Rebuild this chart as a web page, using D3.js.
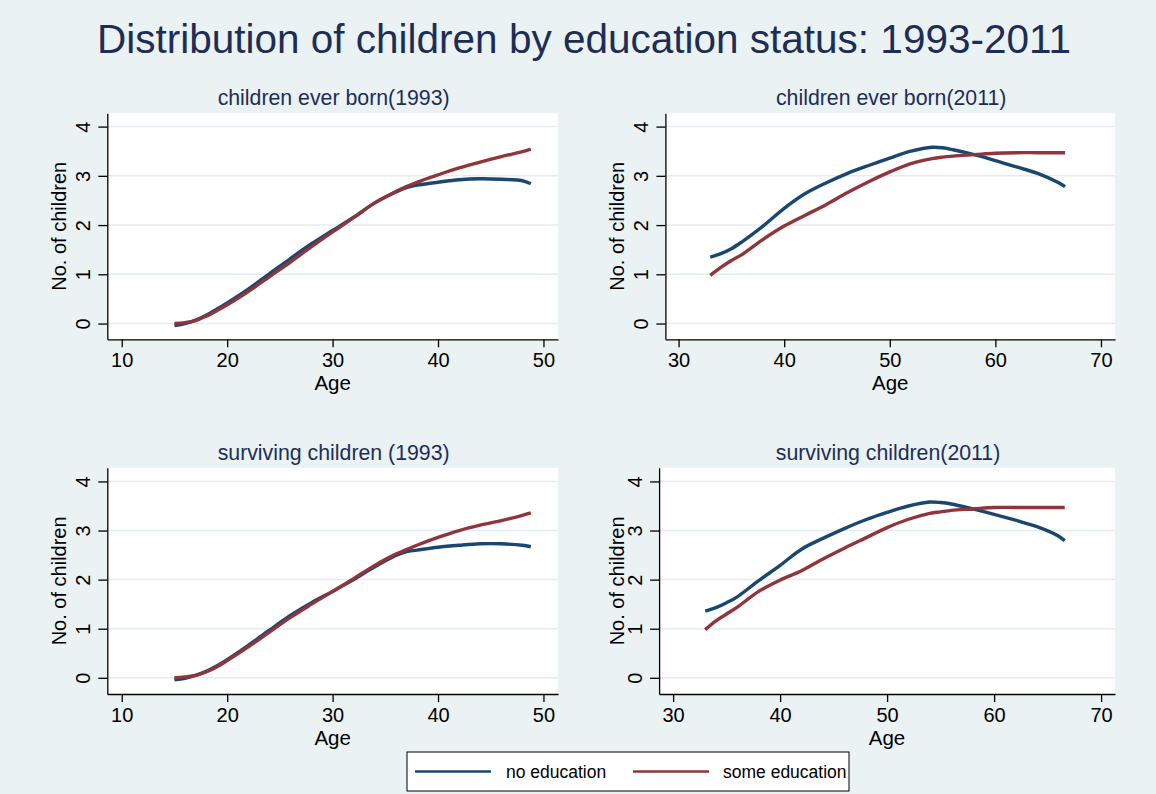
<!DOCTYPE html>
<html>
<head>
<meta charset="utf-8">
<script src="https://cdn.jsdelivr.net/npm/d3@7"></script>
<style>
  body { margin: 0; background: #eaf2f3; }
  svg { display: block; font-family: "Liberation Sans", Arial, sans-serif; }
</style>
</head>
<body>
<div id="chart"></div>
<script>
const ages1993 = [15, 16, 17, 18, 19, 20, 22, 24, 26, 28, 30, 32, 34, 36, 37, 38, 40, 42, 44, 46, 48, 48.8];
const ages2011 = [33, 34, 35, 36, 38, 40, 42, 44, 46, 48, 50, 52, 54, 55, 56, 58, 60, 62, 64, 66, 66.6];

// children ever born (1993)
const ceb1993NoEdu = [-0.04, 0.0, 0.07, 0.17, 0.29, 0.42, 0.7, 1.01, 1.32, 1.62, 1.89, 2.16, 2.45, 2.67, 2.76, 2.81, 2.87, 2.92, 2.94, 2.93, 2.9, 2.84];
const ceb1993SomeEdu = [0.0, 0.02, 0.06, 0.15, 0.26, 0.38, 0.65, 0.95, 1.25, 1.56, 1.86, 2.15, 2.45, 2.68, 2.78, 2.87, 3.02, 3.16, 3.28, 3.39, 3.49, 3.54];

// children ever born (2011)
const ceb2011NoEdu = [1.35, 1.42, 1.52, 1.66, 1.98, 2.34, 2.64, 2.86, 3.05, 3.21, 3.36, 3.5, 3.58, 3.57, 3.53, 3.43, 3.31, 3.18, 3.05, 2.86, 2.78];
const ceb2011SomeEdu = [0.98, 1.14, 1.28, 1.4, 1.71, 1.98, 2.2, 2.42, 2.66, 2.88, 3.08, 3.25, 3.35, 3.38, 3.4, 3.43, 3.46, 3.47, 3.47, 3.47, 3.47];

// surviving children (1993)
const surv1993NoEdu = [-0.04, -0.01, 0.05, 0.13, 0.24, 0.37, 0.66, 0.97, 1.27, 1.53, 1.76, 2.0, 2.26, 2.49, 2.57, 2.6, 2.66, 2.7, 2.73, 2.73, 2.7, 2.67];
const surv1993SomeEdu = [0.0, 0.02, 0.05, 0.12, 0.22, 0.35, 0.63, 0.93, 1.23, 1.5, 1.76, 2.02, 2.29, 2.52, 2.61, 2.7, 2.86, 3.0, 3.11, 3.2, 3.31, 3.36];

// surviving children (2011)
const surv2011NoEdu = [1.36, 1.43, 1.53, 1.65, 1.98, 2.29, 2.62, 2.84, 3.04, 3.22, 3.37, 3.5, 3.58, 3.57, 3.54, 3.44, 3.33, 3.21, 3.08, 2.89, 2.79];
const surv2011SomeEdu = [0.98, 1.16, 1.3, 1.44, 1.76, 1.99, 2.18, 2.42, 2.64, 2.85, 3.06, 3.23, 3.35, 3.38, 3.41, 3.44, 3.47, 3.47, 3.47, 3.47, 3.47];

const xTicks1993 = [10, 20, 30, 40, 50];
const xTicks2011 = [30, 40, 50, 60, 70];
const yTicks = [0, 1, 2, 3, 4];

const seriesNames = ["no education", "some education"];
const seriesColors = ["#1a476f", "#90353b"];

const W = 1156, H = 794;
const titleColor = "#1e2d55";

const svg = d3.select("#chart").append("svg")
  .attr("width", W)
  .attr("height", H);

svg.append("rect").attr("width", W).attr("height", H).attr("fill", "#eaf2f3");

// Main title
svg.append("text")
  .attr("x", 584)
  .attr("y", 53)
  .attr("text-anchor", "middle")
  .attr("font-size", 40.5)
  .attr("fill", titleColor)
  .text("Distribution of children by education status: 1993-2011");

// Function to draw one panel
function drawPanel(p) {
  const x = d3.scaleLinear().domain(p.xDomain).range([p.left, p.right]);
  const y = d3.scaleLinear().domain(p.yDomain).range([p.bottom, p.top]);
  const g = svg.append("g");

  g.append("rect")
    .attr("x", p.left).attr("y", p.top)
    .attr("width", p.right - p.left).attr("height", p.bottom - p.top)
    .attr("fill", "#ffffff");

  // gridlines
  g.selectAll(".grid")
    .data(yTicks)
    .enter().append("line")
    .attr("x1", p.left).attr("x2", p.right)
    .attr("y1", d => y(d)).attr("y2", d => y(d))
    .attr("stroke", "#e4ecef")
    .attr("stroke-width", 1.5);

  // axes
  const xAxis = g.append("g")
    .attr("transform", `translate(0,${p.bottom})`)
    .call(d3.axisBottom(x).tickValues(p.xTicks).tickFormat(d3.format("d"))
      .tickSize(8).tickPadding(6).tickSizeOuter(0));
  xAxis.select(".domain").attr("stroke", "#000").attr("stroke-width", 1.3);
  xAxis.selectAll(".tick line").attr("stroke", "#000").attr("stroke-width", 1.3);
  xAxis.selectAll(".tick text")
    .attr("font-size", 20)
    .attr("font-family", "Liberation Sans, Arial, sans-serif")
    .attr("fill", "#000");

  const yAxis = g.append("g")
    .attr("transform", `translate(${p.left},0)`)
    .call(d3.axisLeft(y).tickValues(yTicks).tickFormat(d3.format("d"))
      .tickSize(9).tickSizeOuter(0));
  yAxis.select(".domain").attr("stroke", "#000").attr("stroke-width", 1.3);
  yAxis.selectAll(".tick line").attr("stroke", "#000").attr("stroke-width", 1.3);
  yAxis.selectAll(".tick text")
    .attr("font-size", 20)
    .attr("font-family", "Liberation Sans, Arial, sans-serif")
    .attr("fill", "#000")
    .attr("text-anchor", "middle")
    .attr("x", 0).attr("dy", 0)
    .attr("transform", "translate(-17,0) rotate(-90)");

  // panel subtitle
  g.append("text")
    .attr("x", (p.left + p.right) / 2 + 1)
    .attr("y", p.top - 8)
    .attr("text-anchor", "middle")
    .attr("font-size", 21.3)
    .attr("fill", titleColor)
    .text(p.title);

  // axis titles
  g.append("text")
    .attr("x", (p.left + p.right) / 2)
    .attr("y", p.bottom + 51)
    .attr("text-anchor", "middle")
    .attr("font-size", 20.5)
    .attr("fill", "#000")
    .text("Age");

  g.append("text")
    .attr("transform", `translate(${p.left - p.yTitleGap},${(p.top + p.bottom) / 2}) rotate(-90)`)
    .attr("text-anchor", "middle")
    .attr("font-size", 20)
    .attr("fill", "#000")
    .text("No. of children");

  // curves
  const line = d3.line()
    .x(d => x(d[0]))
    .y(d => y(d[1]))
    .curve(d3.curveCatmullRom);

  p.series.forEach((vals, i) => {
    g.append("path")
      .datum(p.ages.map((a, j) => [a, vals[j]]))
      .attr("fill", "none")
      .attr("stroke", seriesColors[i])
      .attr("stroke-width", 3.4)
      .attr("stroke-linejoin", "round")
      .attr("d", line);
  });
}

drawPanel({
  title: "children ever born(1993)",
  left: 107.3, right: 558, top: 113.3, bottom: 339.3,
  xDomain: [8.63, 51.38], yDomain: [-0.32, 4.27],
  xTicks: xTicks1993, ages: ages1993,
  series: [ceb1993NoEdu, ceb1993SomeEdu],
  yTitleGap: 41
});

drawPanel({
  title: "children ever born(2011)",
  left: 665.4, right: 1115, top: 113.3, bottom: 339.3,
  xDomain: [28.75, 71.33], yDomain: [-0.32, 4.27],
  xTicks: xTicks2011, ages: ages2011,
  series: [ceb2011NoEdu, ceb2011SomeEdu],
  yTitleGap: 41.7
});

drawPanel({
  title: "surviving children (1993)",
  left: 107.3, right: 558, top: 467.7, bottom: 694,
  xDomain: [8.63, 51.38], yDomain: [-0.33, 4.28],
  xTicks: xTicks1993, ages: ages1993,
  series: [surv1993NoEdu, surv1993SomeEdu],
  yTitleGap: 41
});

drawPanel({
  title: "surviving children(2011)",
  left: 659.1, right: 1115, top: 467.7, bottom: 694,
  xDomain: [28.69, 71.3], yDomain: [-0.33, 4.28],
  xTicks: xTicks2011, ages: ages2011,
  series: [surv2011NoEdu, surv2011SomeEdu],
  yTitleGap: 35.5
});

// Legend
const legend = svg.append("g");
legend.append("rect")
  .attr("x", 407).attr("y", 752)
  .attr("width", 442).attr("height", 39)
  .attr("fill", "#ffffff")
  .attr("stroke", "#000")
  .attr("stroke-width", 1);

const legendItems = [
  { lx: 415, tx: 506 },
  { lx: 633, tx: 723 }
];
legendItems.forEach((item, i) => {
  legend.append("line")
    .attr("x1", item.lx).attr("x2", item.lx + 76)
    .attr("y1", 771.5).attr("y2", 771.5)
    .attr("stroke", seriesColors[i])
    .attr("stroke-width", 2.5);
  legend.append("text")
    .attr("x", item.tx).attr("y", 777.5)
    .attr("font-size", 17.5)
    .attr("fill", "#000")
    .text(seriesNames[i]);
});
</script>
</body>
</html>
